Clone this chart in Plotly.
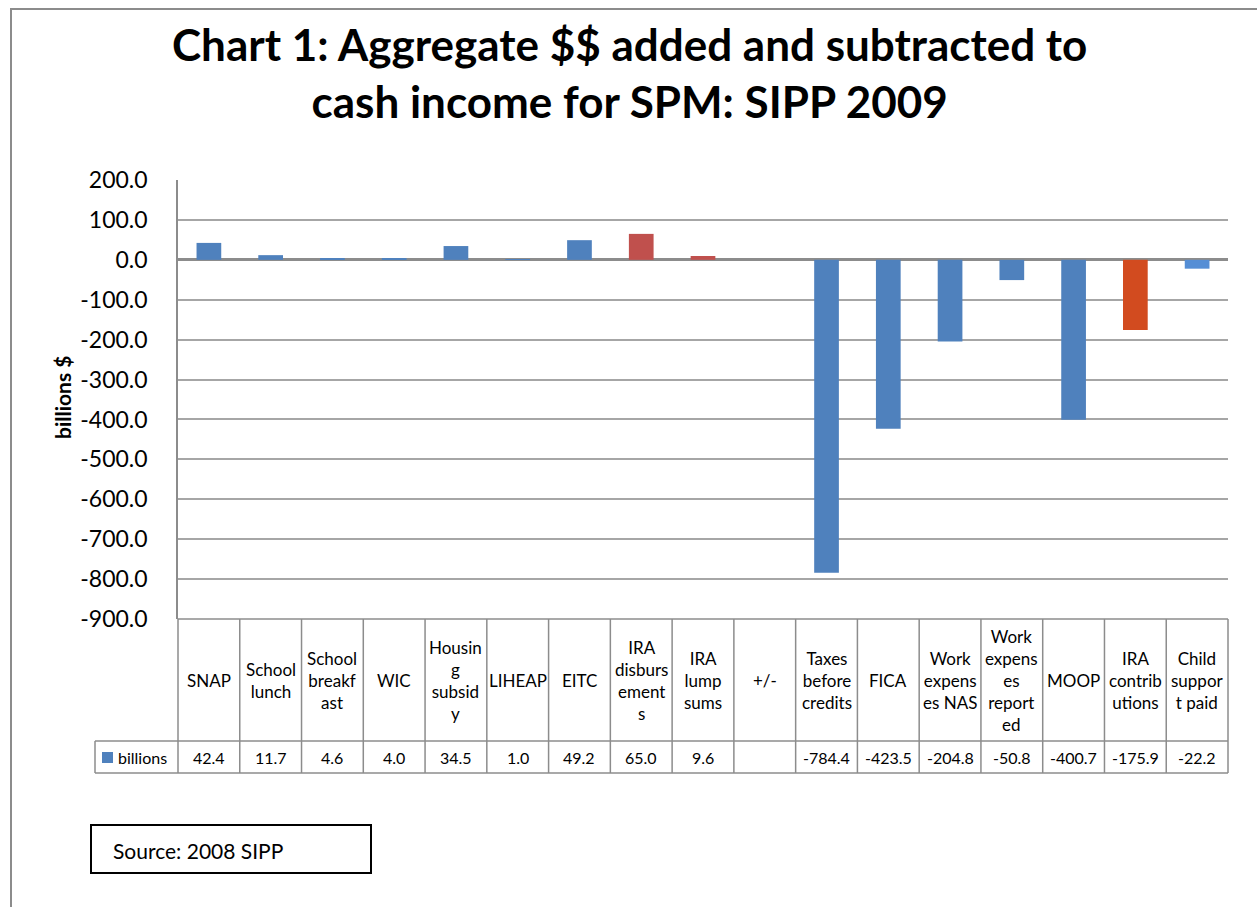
import plotly.graph_objects as go

categories = ["SNAP", "School lunch", "School breakfast", "WIC", "Housing subsidy", "LIHEAP",
              "EITC", "IRA disbursements", "IRA lump sums", "+/-", "Taxes before credits", "FICA",
              "Work expenses NAS", "Work expenses reported", "MOOP", "IRA contributions",
              "Child support paid"]
header_labels = ["SNAP", "School<br>lunch", "School<br>breakf<br>ast", "WIC", "Housin<br>g<br>subsid<br>y",
                 "LIHEAP", "EITC", "IRA<br>disburs<br>ement<br>s", "IRA<br>lump<br>sums", "+/-",
                 "Taxes<br>before<br>credits", "FICA", "Work<br>expens<br>es NAS",
                 "Work<br>expens<br>es<br>report<br>ed", "MOOP", "IRA<br>contrib<br>utions",
                 "Child<br>suppor<br>t paid"]
values = [42.4, 11.7, 4.6, 4.0, 34.5, 1.0, 49.2, 65.0, 9.6, None, -784.4, -423.5, -204.8,
          -50.8, -400.7, -175.9, -22.2]
series_name = "billions"
y_tickvals = [200, 100, 0, -100, -200, -300, -400, -500, -600, -700, -800, -900]
y_ticktext = ["200.0", "100.0", "0.0", "-100.0", "-200.0", "-300.0", "-400.0", "-500.0",
              "-600.0", "-700.0", "-800.0", "-900.0"]

BLUE = "#4F81BD"
colors = [BLUE] * 7 + ["#C0504D", "#C0504D", BLUE, BLUE, BLUE, BLUE, BLUE, BLUE, "#D24B1F", "#558ED5"]

W, H = 1257, 907
L, R, T, B = 178, 1228, 180, 619
FONT = "Lato"

def fx(px):
    return (px - L) / (R - L)

def fy(py):
    return (B - py) / (B - T)

n = len(categories)
fig = go.Figure()
fig.add_trace(go.Bar(x=list(range(n)), y=values, marker=dict(color=colors, line=dict(width=0)),
                     name=series_name, showlegend=False))

shapes = []
annotations = []
gray = "#8C8C8C"
hdr_bot = 741
val_bot = 773
for k in range(n + 1):
    shapes.append(dict(type="line", xref="paper", yref="paper", x0=k / n, x1=k / n,
                       y0=fy(B), y1=fy(val_bot), line=dict(color=gray, width=1.5)))
shapes.append(dict(type="line", xref="paper", yref="paper", x0=0, x1=1, y0=fy(B), y1=fy(B),
                   line=dict(color=gray, width=1.5)))
for yy in (hdr_bot, val_bot):
    shapes.append(dict(type="line", xref="paper", yref="paper", x0=fx(95), x1=1, y0=fy(yy), y1=fy(yy),
                       line=dict(color=gray, width=1.5)))
shapes.append(dict(type="line", xref="paper", yref="paper", x0=fx(95), x1=fx(95), y0=fy(hdr_bot),
                   y1=fy(val_bot), line=dict(color=gray, width=1.5)))
shapes.append(dict(type="rect", xref="paper", yref="paper", x0=fx(102), x1=fx(113), y0=fy(752),
                   y1=fy(763), fillcolor=BLUE, line=dict(width=0)))
annotations.append(dict(x=fx(116), y=fy(757), xref="paper", yref="paper", text=series_name,
                        showarrow=False, xanchor="left", yanchor="middle",
                        font=dict(family=FONT, size=16, color="black")))
for i, (lab, v) in enumerate(zip(header_labels, values)):
    cx = (i + 0.5) / n
    annotations.append(dict(x=cx, y=fy(680), xref="paper", yref="paper", text=lab, showarrow=False,
                            xanchor="center", yanchor="middle",
                            font=dict(family=FONT, size=17, color="black")))
    if v is not None:
        annotations.append(dict(x=cx, y=fy(757), xref="paper", yref="paper", text=f"{v:.1f}",
                                showarrow=False, xanchor="center", yanchor="middle",
                                font=dict(family=FONT, size=16, color="black")))

shapes.append(dict(type="path", xref="paper", yref="paper",
                   path=f"M {fx(11)} {fy(910)} L {fx(11)} {fy(9)} L {fx(1262)} {fy(9)}",
                   line=dict(color=gray, width=2)))
shapes.append(dict(type="rect", xref="paper", yref="paper", x0=fx(91), x1=fx(371), y0=fy(873),
                   y1=fy(825), line=dict(color="black", width=2)))
annotations.append(dict(x=fx(111), y=fy(850), xref="paper", yref="paper", text="Source: 2008 SIPP",
                        showarrow=False, xanchor="left", yanchor="middle",
                        font=dict(family=FONT, size=21, color="black")))
annotations.append(dict(x=fx(629), y=fy(72), xref="paper", yref="paper",
                        text="<b>Chart 1: Aggregate $$ added and subtracted to<br>cash income for SPM: SIPP 2009</b>",
                        showarrow=False, xanchor="center", yanchor="middle",
                        font=dict(family=FONT, size=44, color="black")))
annotations.append(dict(x=fx(62), y=fy(398), xref="paper", yref="paper", text="<b>billions $</b>",
                        showarrow=False, textangle=-90, xanchor="center", yanchor="middle",
                        font=dict(family=FONT, size=21, color="black")))

fig.update_layout(
    width=W, height=H,
    margin=dict(l=L, r=W - R, t=T, b=H - B, pad=0),
    paper_bgcolor="white", plot_bgcolor="white",
    bargap=0.6,
    shapes=shapes, annotations=annotations,
    xaxis=dict(range=[-0.5, n - 0.5], showticklabels=False, showgrid=False, zeroline=False,
               showline=False, ticks=""),
    yaxis=dict(range=[-900, 200], tickvals=y_tickvals, ticktext=y_ticktext, showgrid=True,
               gridcolor="#A6A6A6", gridwidth=1.5, zeroline=True, zerolinecolor="#8C8C8C",
               zerolinewidth=2.5, showline=True, linecolor=gray, linewidth=1.5, ticks="",
               tickfont=dict(family=FONT, size=23, color="black"), ticklabelstandoff=24),
    font=dict(family=FONT),
)
fig.write_html("out.html")
